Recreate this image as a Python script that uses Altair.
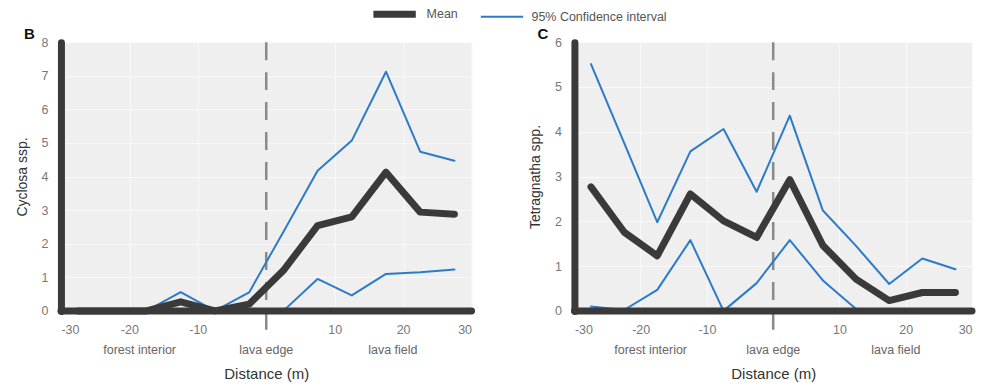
import altair as alt
import pandas as pd

# ---- data ----
distance = [-27.5, -22.5, -17.5, -12.5, -7.5, -2.5, 2.5, 7.5, 12.5, 17.5, 22.5, 27.5]

cyclosa_mean = [0, 0, 0, 0.27, 0, 0.2, 1.2, 2.54, 2.8, 4.13, 2.94, 2.88]
cyclosa_upper = [0, 0, 0, 0.56, 0, 0.55, 2.35, 4.17, 5.07, 7.12, 4.74, 4.47]
cyclosa_lower = [0, 0, 0, 0, 0, 0, 0, 0.95, 0.46, 1.1, 1.15, 1.23]

tetra_mean = [2.77, 1.76, 1.23, 2.61, 2.01, 1.64, 2.93, 1.46, 0.71, 0.23, 0.41, 0.41]
tetra_upper = [5.51, 3.75, 1.98, 3.56, 4.06, 2.66, 4.36, 2.24, 1.45, 0.6, 1.17, 0.93]
tetra_lower = [0.1, 0.02, 0.47, 1.58, 0, 0.62, 1.58, 0.68, 0.04, 0, 0, 0]

zone_labels = ["forest interior", "lava edge", "lava field"]
zone_pos = [-18.5, 0, 18.5]
x_ticks = [-30, -20, -10, 10, 20, 30]
edge_pos = [0]
baseline_val = [0]

MEAN = "Mean"
CI = "95% Confidence interval"

FONT = "Liberation Sans"
DARK = "#3a3a3a"
BLUE = "#2b7bc8"


def make_df(mean, upper, lower):
    rows = []
    for name, vals, typ in [("lower", lower, CI), ("upper", upper, CI), ("mean", mean, MEAN)]:
        for x, v in zip(distance, vals):
            rows.append({"x": x, "value": v, "series": name, "type": typ})
    return pd.DataFrame(rows)


legend = alt.Legend(
    title=None, orient="none", legendX=309, legendY=-53, direction="horizontal",
    symbolType="stroke", symbolSize=1800, labelFontSize=12.5, labelColor="#555",
    labelFont=FONT, columnPadding=18, labelOffset=7, padding=0,
)


def panel(df, ymax, ytitle, letter, width, height=269):
    xs = alt.Scale(domain=[-30, 30], nice=False, zero=False)
    ys = alt.Scale(domain=[0, ymax], nice=False, zero=True)
    x_enc = alt.X("x:Q", scale=xs, axis=alt.Axis(
        values=x_ticks, tickCount=20, title="Distance (m)", grid=True, domain=False,
        ticks=False, labelPadding=13, titlePadding=30, titleFontSize=15,
        labelFontSize=12.5, labelExpr="datum.value + ''", labelOverlap=False))
    y_enc = alt.Y("value:Q", scale=ys, axis=alt.Axis(
        values=list(range(ymax + 1)), tickCount=20, title=ytitle, grid=True, domain=True,
        domainWidth=7, domainColor=DARK, domainCap="round", ticks=False,
        labelPadding=13, titlePadding=12, titleFontSize=14, labelFontSize=12.5,
        labelExpr="datum.value + ''", labelOverlap=False))
    color = alt.Color("type:N", scale=alt.Scale(domain=[MEAN, CI], range=[DARK, BLUE]), legend=legend)
    sw = alt.StrokeWidth("type:N", scale=alt.Scale(domain=[MEAN, CI], range=[7, 2]), legend=legend)

    base = alt.Chart(df)
    dash = alt.Chart(pd.DataFrame({"x": edge_pos})).mark_rule(
        strokeDash=[18, 12], color="#8a8a8a", strokeWidth=2.5
    ).encode(x=alt.X("x:Q", scale=xs), y=alt.value(0), y2=alt.value(height + 31))
    ci = base.transform_filter(alt.datum.type == CI).mark_line(
        strokeJoin="round", strokeCap="round"
    ).encode(x=x_enc, y=y_enc, color=color, strokeWidth=sw, detail="series:N")
    mean = base.transform_filter(alt.datum.type == MEAN).mark_line(
        strokeJoin="round", strokeCap="round"
    ).encode(x="x:Q", y="value:Q", color=color, strokeWidth=sw, detail="series:N")
    xline = alt.Chart(pd.DataFrame({"value": baseline_val})).mark_rule(
        color=DARK, strokeWidth=7, strokeCap="round"
    ).encode(y="value:Q")
    zones = alt.Chart(pd.DataFrame({"x": zone_pos, "label": zone_labels})).mark_text(
        fontSize=12.5, color="#666", baseline="middle", font=FONT
    ).encode(x="x:Q", y=alt.value(height + 39), text="label:N")

    return alt.layer(dash, ci, mean, xline, zones).properties(
        width=width, height=height,
        title=alt.TitleParams(letter, anchor="start", dx=9, fontSize=15,
                              fontWeight="bold", color="#111", offset=-6, font=FONT),
    )


left = panel(make_df(cyclosa_mean, cyclosa_upper, cyclosa_lower), 8, "Cyclosa ssp.", "B", 411)
right = panel(make_df(tetra_mean, tetra_upper, tetra_lower), 6, "Tetragnatha spp.", "C", 398)

chart = alt.hconcat(left, right, spacing=52).configure_view(
    fill="#efefef", stroke="transparent"
).configure_axis(
    labelFont=FONT, titleFont=FONT, labelColor="#777", titleColor="#333",
    titleFontWeight="normal", gridColor="#f9f9f9", gridWidth=1,
).properties(
    padding={"left": 6, "top": -19, "right": 0, "bottom": 0},
    background="white",
)

chart.save("out.html", embed_options={"renderer": "svg", "actions": False})
